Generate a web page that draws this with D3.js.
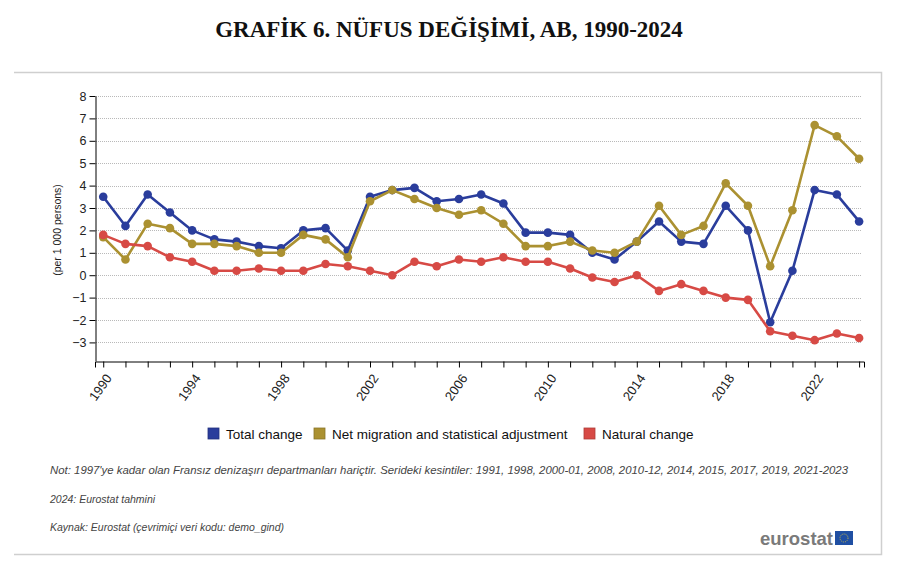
<!DOCTYPE html>
<meta charset="utf-8">
<script src="https://d3js.org/d3.v7.min.js"></script>
<style>
  body { margin: 0; background: #fff; }
  svg { font-family: "Liberation Sans", Arial, sans-serif; }
</style>
<body>
<div id="chart"></div>
<script>
// data (per 1 000 persons)
var years = d3.range(1990, 2025);
var totalChange = [3.5, 2.2, 3.6, 2.8, 2.0, 1.6, 1.5, 1.3, 1.2, 2.0, 2.1, 1.1,
  3.5, 3.8, 3.9, 3.3, 3.4, 3.6, 3.2, 1.9, 1.9, 1.8, 1.0, 0.7, 1.5, 2.4,
  1.5, 1.4, 3.1, 2.0, -2.1, 0.2, 3.8, 3.6, 2.4];
var netMigration = [1.7, 0.7, 2.3, 2.1, 1.4, 1.4, 1.3, 1.0, 1.0, 1.8, 1.6, 0.8,
  3.3, 3.8, 3.4, 3.0, 2.7, 2.9, 2.3, 1.3, 1.3, 1.5, 1.1, 1.0, 1.5, 3.1,
  1.8, 2.2, 4.1, 3.1, 0.4, 2.9, 6.7, 6.2, 5.2];
var naturalChange = [1.8, 1.4, 1.3, 0.8, 0.6, 0.2, 0.2, 0.3, 0.2, 0.2, 0.5, 0.4,
  0.2, 0.0, 0.6, 0.4, 0.7, 0.6, 0.8, 0.6, 0.6, 0.3, -0.1, -0.3, 0.0, -0.7,
  -0.4, -0.7, -1.0, -1.1, -2.5, -2.7, -2.9, -2.6, -2.8];
var yTicks = [-3, -2, -1, 0, 1, 2, 3, 4, 5, 6, 7, 8];
var xLabelYears = [1990, 1994, 1998, 2002, 2006, 2010, 2014, 2018, 2022];

var seriesNames = ["Total change", "Net migration and statistical adjustment", "Natural change"];
var seriesColors = ["#2a3d9c", "#ab9131", "#d74a45"];
var series = [totalChange, netMigration, naturalChange];

var W = 900, H = 571;
var svg = d3.select("#chart").append("svg")
    .attr("width", W).attr("height", H);

// title
svg.append("text")
    .attr("x", 449).attr("y", 37)
    .attr("text-anchor", "middle")
    .style("font-family", "'Liberation Serif', 'Times New Roman', serif")
    .style("font-weight", "bold")
    .style("font-size", "23px")
    .attr("fill", "#111")
    .text("GRAFİK 6. NÜFUS DEĞİŞİMİ, AB, 1990-2024");

// frame
svg.append("path")
    .attr("d", "M14,72.5 H881.5 V554.5 H14")
    .attr("fill", "none")
    .attr("stroke", "#cfcfcf")
    .attr("stroke-width", 1.5);

var x = d3.scaleLinear().domain([1989.63, 2024.22]).range([95, 864]);
var y = d3.scaleLinear().domain([-3.83, 8]).range([361, 96]);

// grid
svg.append("g").selectAll("line")
    .data(yTicks)
    .enter().append("line")
      .attr("x1", 96).attr("x2", 862)
      .attr("y1", function(d) { return Math.round(y(d)) + 0.5; })
      .attr("y2", function(d) { return Math.round(y(d)) + 0.5; })
      .attr("stroke", "#b9b9b9")
      .attr("stroke-dasharray", "1,1");

// y axis
var yAxis = svg.append("g")
    .attr("transform", "translate(95.5,0)")
    .call(d3.axisLeft(y).tickValues(yTicks).tickSize(6).tickSizeOuter(0).tickPadding(3));
yAxis.selectAll("text").style("font-size", "12.5px").attr("fill", "#222");
yAxis.select(".domain").attr("stroke", "#000");

svg.append("text")
    .attr("transform", "translate(61,230) rotate(-90)")
    .attr("text-anchor", "middle")
    .style("font-size", "10.5px")
    .attr("fill", "#222")
    .text("(per 1 000 persons)");

// x axis
var xAxis = svg.append("g")
    .attr("transform", "translate(0,361.5)")
    .call(d3.axisBottom(x).tickValues(years).tickSize(6).tickSizeOuter(6)
      .tickFormat(function(d) { return xLabelYears.indexOf(d) >= 0 ? d : ""; }));
xAxis.select(".domain").attr("stroke", "#000");
xAxis.selectAll("text")
    .style("font-size", "13px")
    .attr("fill", "#222")
    .attr("text-anchor", "end")
    .attr("dy", "0.35em")
    .attr("transform", "translate(5,14) rotate(-55)")
    .attr("y", 0);

// lines and points
var line = d3.line()
    .x(function(d, i) { return x(years[i]); })
    .y(function(d) { return y(d); });

series.forEach(function(vals, k) {
  var g = svg.append("g");
  g.append("path")
    .datum(vals)
    .attr("d", line)
    .attr("fill", "none")
    .attr("stroke", seriesColors[k])
    .attr("stroke-width", 2.6)
    .attr("stroke-linejoin", "round");
  g.selectAll("circle")
    .data(vals)
    .enter().append("circle")
      .attr("cx", function(d, i) { return x(years[i]); })
      .attr("cy", function(d) { return y(d); })
      .attr("r", 4.3)
      .attr("fill", seriesColors[k]);
});

// legend
var legendX = [208, 314, 584];
var legend = svg.append("g");
seriesNames.forEach(function(name, k) {
  legend.append("rect")
    .attr("x", legendX[k]).attr("y", 428)
    .attr("width", 11).attr("height", 11)
    .attr("fill", seriesColors[k])
    .attr("stroke", d3.color(seriesColors[k]).darker(0.6))
    .attr("stroke-width", 0.8);
  legend.append("text")
    .attr("x", legendX[k] + 18).attr("y", 438.5)
    .style("font-size", "13.5px")
    .attr("fill", "#111")
    .text(name);
});

// notes
var notes = [
  "Not: 1997'ye kadar olan Fransız denizaşırı departmanları hariçtir. Serideki kesintiler: 1991, 1998, 2000-01, 2008, 2010-12, 2014, 2015, 2017, 2019, 2021-2023",
  "2024: Eurostat tahmini",
  "Kaynak: Eurostat (çevrimiçi veri kodu: demo_gind)"
];
var noteY = [474, 503, 531];
notes.forEach(function(t, i) {
  var txt = svg.append("text")
    .attr("x", 50).attr("y", noteY[i])
    .style("font-size", "10.5px")
    .style("font-style", "italic")
    .attr("fill", "#444")
    .text(t);
  if (i === 0) txt.attr("textLength", 798).attr("lengthAdjust", "spacingAndGlyphs");
});

// eurostat logo
svg.append("text")
    .attr("x", 833).attr("y", 545)
    .attr("text-anchor", "end")
    .style("font-size", "18.5px")
    .style("font-weight", "bold")
    .attr("fill", "#7a7a7a")
    .text("eurostat");
svg.append("rect")
    .attr("x", 835).attr("y", 531)
    .attr("width", 18).attr("height", 14)
    .attr("fill", "#1f4fa3");
svg.append("circle")
    .attr("cx", 844).attr("cy", 538).attr("r", 4)
    .attr("fill", "none")
    .attr("stroke", "#c7b84a")
    .attr("stroke-width", 1)
    .attr("stroke-dasharray", "1,1");
</script>
</body>
